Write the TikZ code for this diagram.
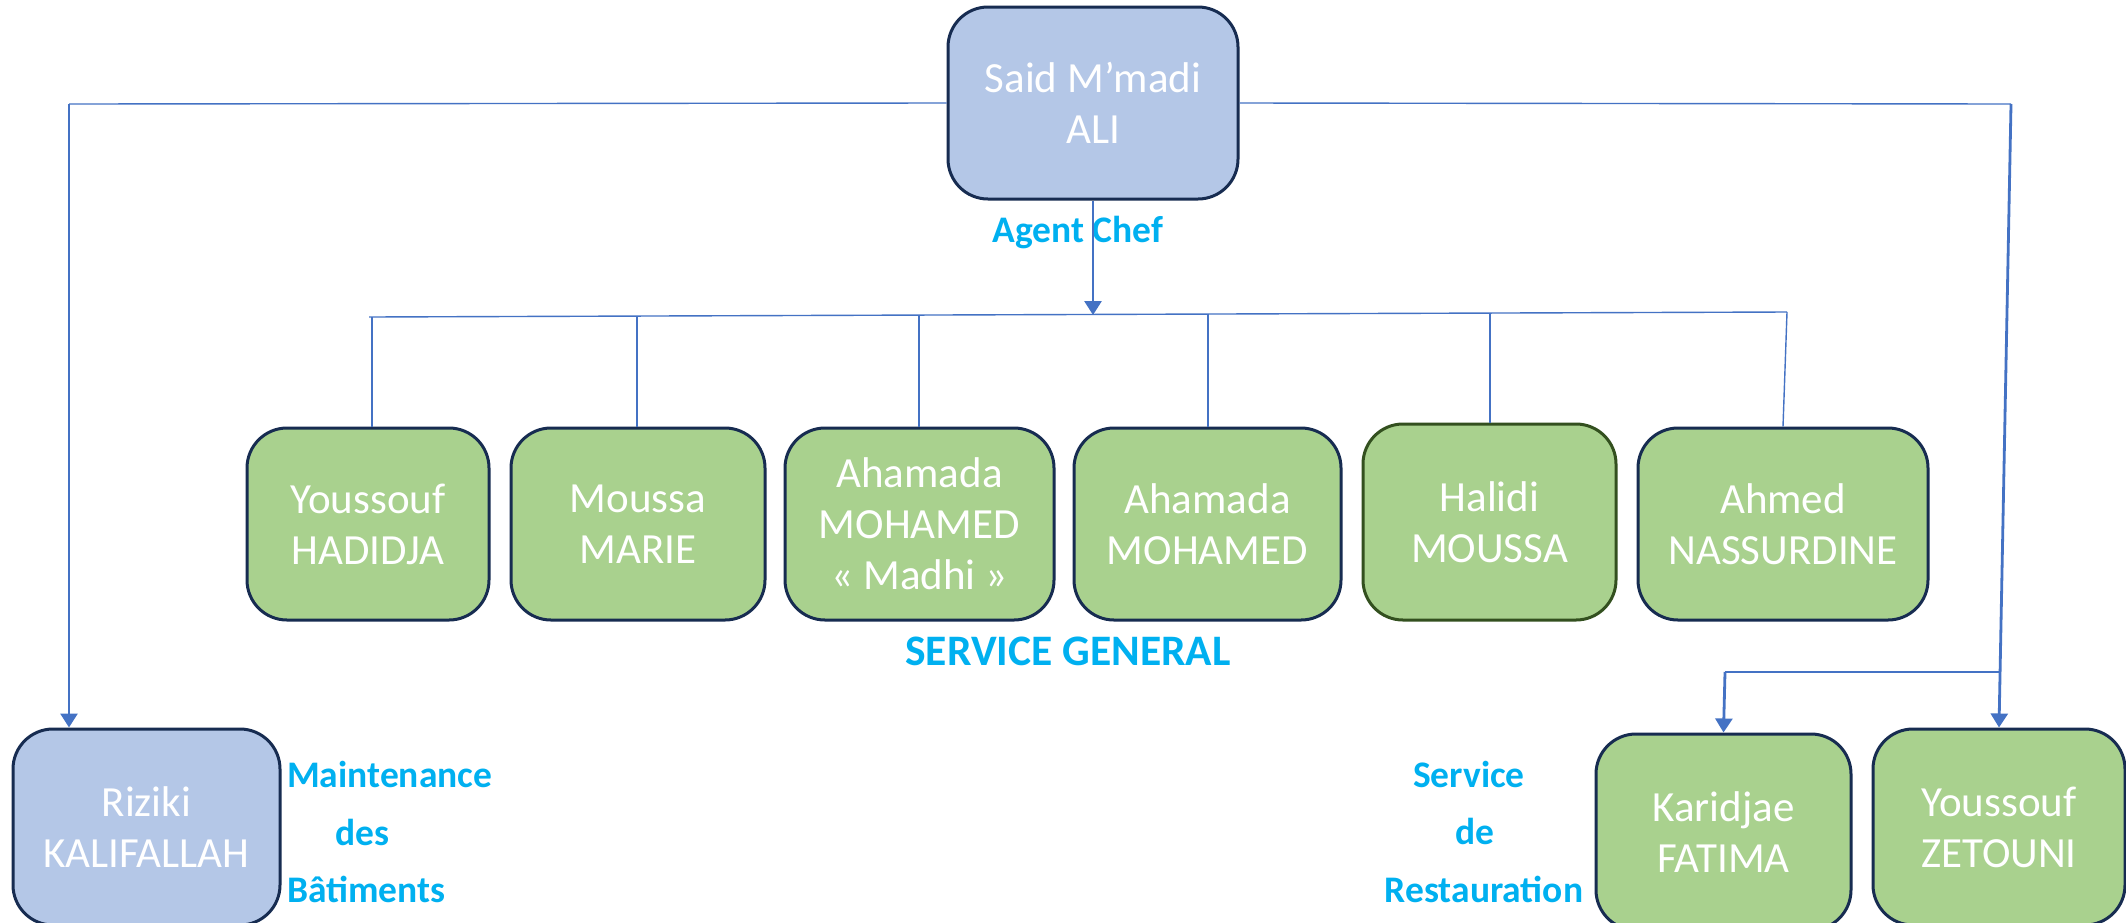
\documentclass[tikz,border=0pt]{standalone}
\usepackage{fontspec}
\setmainfont{Carlito}
\usetikzlibrary{arrows.meta}
\definecolor{boxblue}{HTML}{B4C7E7}
\definecolor{boxgreen}{HTML}{A9D18E}
\definecolor{navyline}{HTML}{172C51}
\definecolor{darkgreenline}{HTML}{33501F}
\definecolor{lineblue}{HTML}{4472C4}
\definecolor{labelblue}{HTML}{00B0F0}
\begin{document}
\begin{tikzpicture}[x=1pt,y=-1pt,
  person/.style={draw=navyline, line width=3pt, rounded corners=40pt, inner sep=0pt,
    text=white, align=center, font=\fontsize{43}{51}\selectfont},
  bluebox/.style={person, fill=boxblue},
  greenbox/.style={person, fill=boxgreen},
  thinconn/.style={draw=lineblue, line width=1.4pt},
  arrowconn/.style={draw=lineblue, line width=2.8pt, -{Triangle[length=14pt,width=17pt]}},
  lbl/.style={text=labelblue, font=\fontsize{37.5}{44}\selectfont\bfseries, inner sep=0pt}]
\useasboundingbox (0,0) rectangle (2126,922);
\fill[white] (0,0) rectangle (2126,922);

% boxes
\node[bluebox, minimum width=290pt, minimum height=192pt] (top) at (1093,103) {Said M’madi\\ALI};
\node[bluebox, minimum width=267pt, minimum height=196pt] (riz) at (146.5,827) {Riziki\\KALIFALLAH};
\node[greenbox, minimum width=242pt, minimum height=192pt] (n1) at (368,524) {Youssouf\\HADIDJA};
\node[greenbox, minimum width=254pt, minimum height=192pt] (n2) at (638,524) {Moussa\\MARIE};
\node[greenbox, minimum width=269pt, minimum height=192pt] (n3) at (919.5,524) {Ahamada\\MOHAMED\\« Madhi »};
\node[greenbox, minimum width=267pt, minimum height=192pt] (n4) at (1207.5,524) {Ahamada\\MOHAMED};
\node[greenbox, draw=darkgreenline, minimum width=253pt, minimum height=196pt] (n5) at (1489.5,522) {Halidi\\MOUSSA};
\node[greenbox, minimum width=290pt, minimum height=192pt] (n6) at (1783,524) {Ahmed\\NASSURDINE};
\node[greenbox, minimum width=255pt, minimum height=196pt] (kar) at (1723.5,832) {Karidjae\\FATIMA};
\node[greenbox, minimum width=252pt, minimum height=196pt] (zet) at (1999,827) {Youssouf\\ZETOUNI};

% labels
\node[lbl, anchor=base] (agent) at (1078,242) {Agent Chef};
\node[lbl, anchor=base, font=\fontsize{43.5}{50}\selectfont\bfseries] (sg) at (1068,665) {SERVICE GENERAL};
\node[lbl, anchor=base west] (m1) at (287,787) {Maintenance};
\node[lbl, anchor=base] (m2) at (362,845) {des};
\node[lbl, anchor=base west] (m3) at (287,902) {Bâtiments};
\node[lbl, anchor=base] (s1) at (1469,787) {Service};
\node[lbl, anchor=base] (s2) at (1475,844) {de};
\node[lbl, anchor=base] (s3) at (1484,902) {Restauration};

% coordinates
\coordinate (cL) at (69,104);
\coordinate (cR) at (2011,104);
\coordinate (cRb) at (2000,672);
\coordinate (cK) at (1725,672);
\coordinate (bL) at (369,317);
\coordinate (bR) at (1787,312);
\coordinate (bC) at (1093,315);
\coordinate (d1) at (372,317);
\coordinate (d2) at (637,316);
\coordinate (d3) at (919,315);
\coordinate (d4) at (1208,314);
\coordinate (d5) at (1490,313);

% connectors
\draw[thinconn] (top.west) -- (cL);
\draw[arrowconn] (cL) -- (cL |- riz.north);
\draw[thinconn] (top.east) -- (cR);
\draw[arrowconn] (cR) -- (zet.north);
\draw[thinconn] (cRb) -- (cK);
\draw[arrowconn] (cK) -- (kar.north);
\draw[arrowconn] (top.south) -- (bC);
\draw[thinconn] (bL) -- (bR);
\draw[thinconn] (d1) -- (d1 |- n1.north);
\draw[thinconn] (d2) -- (d2 |- n2.north);
\draw[thinconn] (d3) -- (d3 |- n3.north);
\draw[thinconn] (d4) -- (d4 |- n4.north);
\draw[thinconn] (d5) -- (d5 |- n5.north);
\draw[thinconn] (bR) -- (n6.north);
\end{tikzpicture}
\end{document}
